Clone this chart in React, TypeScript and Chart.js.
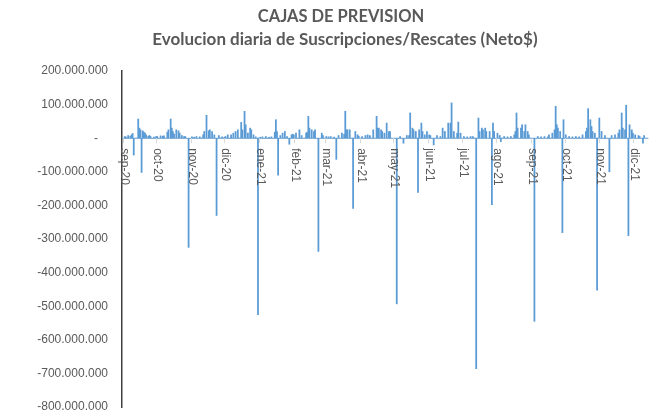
import React, { useEffect, useRef } from 'react';
import { Chart, registerables } from 'chart.js';

Chart.register(...registerables);

const titleText = 'CAJAS DE PREVISION';
const subtitleText = 'Evolucion diaria de Suscripciones/Rescates (Neto$)';

// daily axis: 1 Sep 2020 onwards
const startYear = 2020;
const startMonth = 8; // 0-based (September)
const dayCount = 470;

const monthLabels = [
  'sep-20', 'oct-20', 'nov-20', 'dic-20', 'ene-21', 'feb-21', 'mar-21', 'abr-21',
  'may-21', 'jun-21', 'jul-21', 'ago-21', 'sep-21', 'oct-21', 'nov-21', 'dic-21',
];

// y axis in millions of $
const yMin = -800;
const yMax = 200;
const yStep = 100;

// net daily flows, [day of month, millions $]
const sep20 = [[3, 5], [4, 3], [6, 8], [8, 6], [9, 10], [10, 14], [11, -50], [15, 57], [16, 30], [17, 25], [18, -102], [19, 22], [20, 18], [21, 15], [22, 10], [24, 6], [25, 8], [26, 5], [29, 3]];
const oct20 = [[1, 5], [2, 5], [5, 7], [7, 6], [8, 7], [11, 18], [12, 25], [14, 57], [15, 30], [16, 20], [17, 12], [19, 25], [21, 22], [22, 15], [24, 8], [26, 5], [27, 5], [30, -325]];
const nov20 = [[2, 4], [4, 3], [6, 5], [9, 4], [12, 10], [13, 20], [15, 68], [17, 22], [18, 25], [20, 20], [22, 10], [24, -230], [26, 8], [29, 4]];
const dic20 = [[1, 3], [2, 5], [4, 10], [7, 10], [9, 15], [11, 20], [13, 25], [16, 47], [17, 25], [19, 80], [20, 40], [22, 15], [24, 30], [25, 25], [27, 10], [29, 4], [31, -525]];
const ene21 = [[2, 3], [4, 4], [7, 5], [10, 3], [12, 4], [15, 18], [16, 55], [17, 20], [18, -110], [20, 8], [22, 15], [24, 20], [26, 5], [28, -18], [30, 10], [31, 12]];
const feb21 = [[1, 10], [3, 15], [6, 25], [8, 8], [12, 15], [13, 18], [14, 65], [15, 30], [17, 25], [19, 20], [20, 25], [23, -337], [26, 15], [27, 8]];
const mar21 = [[2, 5], [4, 4], [6, 5], [9, 3], [11, -63], [13, 8], [16, 15], [18, 12], [19, 80], [20, 25], [21, 25], [23, 25], [26, -209], [28, 20], [30, 10], [31, 6]];
const abr21 = [[3, 5], [6, 8], [8, 10], [10, 8], [13, 25], [16, 65], [17, 30], [18, 30], [20, 25], [21, 20], [23, 15], [25, 45], [27, 20], [28, 20]];
const may21 = [[4, -493], [7, 5], [10, -15], [13, 8], [15, 8], [16, 75], [18, 30], [19, 25], [21, 20], [23, -161], [24, 25], [26, 45], [27, 20], [29, 10], [31, 20]];
const jun21 = [[2, 10], [3, 8], [6, -20], [9, 8], [12, 5], [14, 30], [16, 20], [19, 45], [21, 45], [22, 105], [24, 20], [27, 15], [28, 48], [30, 15]];
const jul21 = [[3, 5], [6, 4], [9, 5], [11, 5], [14, -686], [16, 60], [17, 20], [19, 30], [20, 25], [22, 30], [23, 20], [26, 20], [28, -198], [29, 45], [30, 20]];
const ago21 = [[2, 15], [4, 8], [5, -10], [8, 5], [11, 4], [14, 5], [17, 10], [18, 20], [19, 75], [20, 30], [23, 30], [24, 40], [26, 20], [27, 40], [29, 20], [30, 10]];
const sep21 = [[4, -545], [7, 5], [10, 4], [13, 5], [16, 4], [17, 10], [20, 15], [22, 25], [23, 95], [24, 40], [25, 30], [27, 20], [29, -281], [30, 55]];
const oct21 = [[2, 10], [5, 5], [8, 4], [11, 5], [14, 4], [17, 10], [20, 20], [21, 30], [22, 88], [24, 55], [25, 35], [26, 20], [28, 15], [30, -452]];
const nov21 = [[1, 60], [3, 20], [6, 8], [10, -100], [12, 8], [15, 10], [18, 15], [19, 25], [21, 75], [22, 30], [24, 25], [25, 98], [27, -290], [28, 40], [30, 25]];
const dic21 = [[1, 15], [3, 10], [6, 8], [7, 5], [10, -15], [11, 8]];

const monthlyFlows = [sep20, oct20, nov20, dic20, ene21, feb21, mar21, abr21, may21, jun21, jul21, ago21, sep21, oct21, nov21, dic21];

function buildSeries() {
  const labels: string[] = [];
  const values: number[] = [];
  const monthStarts: number[] = [];
  for (let i = 0; i < dayCount; i++) {
    const d = new Date(Date.UTC(startYear, startMonth, 1 + i));
    const y = d.getUTCFullYear();
    const m = d.getUTCMonth();
    const day = d.getUTCDate();
    const mi = (y - startYear) * 12 + m - startMonth;
    labels.push(`${y}-${String(m + 1).padStart(2, '0')}-${String(day).padStart(2, '0')}`);
    if (day === 1) monthStarts.push(i);
    const list = monthlyFlows[mi] || [];
    const hit = list.find((p) => p[0] === day);
    values.push(hit ? hit[1] : 0);
  }
  return { labels, values, monthStarts };
}

function fmt(v: number): string {
  if (v === 0) return '-   ';
  const s = String(Math.abs(v * 1000000)).replace(/\B(?=(\d{3})+(?!\d))/g, '.');
  return (v < 0 ? '-' : '') + s;
}

export default function App() {
  const ref = useRef<HTMLCanvasElement | null>(null);
  useEffect(() => {
    document.body.style.margin = '0';
    const { labels, values, monthStarts } = buildSeries();
    const overlay = {
      id: 'overlay',
      afterDatasetsDraw(chart: any) {
        const { ctx, scales } = chart;
        const xs = scales.x;
        const ys = scales.y;
        const y0 = ys.getPixelForValue(0);
        ctx.save();
        ctx.strokeStyle = '#D9D9D9';
        ctx.lineWidth = 1;
        monthStarts.forEach((idx, k) => {
          const px = Math.round(xs.getPixelForValue(idx)) + 0.5;
          ctx.beginPath();
          ctx.moveTo(px, y0);
          ctx.lineTo(px, y0 + 5);
          ctx.stroke();
          ctx.save();
          ctx.translate(px + 1, y0 + 10);
          ctx.rotate(Math.PI / 2);
          ctx.textAlign = 'left';
          ctx.textBaseline = 'middle';
          ctx.fillStyle = '#595959';
          ctx.font = '12px "Liberation Sans", Arial, sans-serif';
          ctx.fillText(monthLabels[k] || '', 0, 0);
          ctx.restore();
        });
        ctx.fillStyle = '#595959';
        ctx.textAlign = 'center';
        ctx.textBaseline = 'middle';
        ctx.font = 'bold 16.5px Lato, "Open Sans", sans-serif';
        ctx.fillText(titleText, 341, 17);
        ctx.font = 'bold 17px Lato, "Open Sans", sans-serif';
        ctx.fillText(subtitleText, 345, 40);
        ctx.restore();
      },
    };
    const chart = new Chart(ref.current as HTMLCanvasElement, {
      type: 'bar',
      data: {
        labels,
        datasets: [
          {
            data: values,
            backgroundColor: '#5B9BD5',
            borderWidth: 0,
            barPercentage: 1,
            categoryPercentage: 1,
          },
        ],
      },
      options: {
        animation: false,
        responsive: true,
        maintainAspectRatio: false,
        layout: { padding: { top: 71, right: 9, bottom: 12, left: 0 } },
        plugins: { legend: { display: false }, tooltip: { enabled: false }, title: { display: false } },
        scales: {
          x: {
            position: { y: 0 } as any,
            ticks: { display: false },
            grid: { display: false, drawTicks: false },
            border: { display: true, color: '#D9D9D9', width: 1 },
          },
          y: {
            min: yMin,
            max: yMax,
            ticks: {
              stepSize: yStep,
              color: '#595959',
              padding: 0,
              font: { family: '"Liberation Sans", Arial, sans-serif', size: 12 },
              callback: (v: any) => fmt(Number(v)),
            },
            grid: { display: false, drawTicks: true, tickLength: 14 },
            border: { display: true, color: '#404040', width: 1.5 },
            afterFit: (s: any) => {
              s.width = 122;
            },
          },
        },
      },
      plugins: [overlay],
    });
    return () => chart.destroy();
  }, []);
  return (
    <div style={{ width: 657, height: 419, position: 'relative', background: '#fff' }}>
      <canvas ref={ref} />
    </div>
  );
}
